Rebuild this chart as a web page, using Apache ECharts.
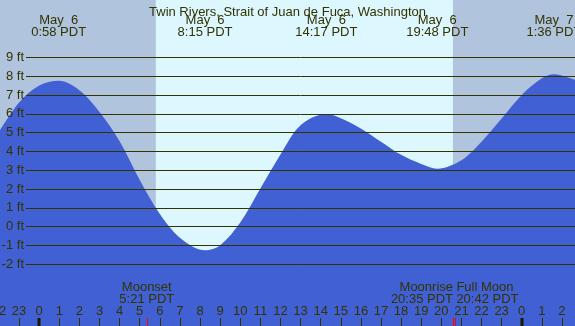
<!DOCTYPE html>
<html>
<head>
<meta charset="utf-8">
<script src="https://cdn.jsdelivr.net/npm/echarts@6/dist/echarts.min.js"></script>
<style>
  html, body { margin: 0; padding: 0; background: #b0c4de; }
  #chart { width: 575px; height: 326px; }
</style>
</head>
<body>
<div id="chart"></div>
<script>
// station + tide curve (hours from May 6 0:00 PDT, feet)
const title = "Twin Rivers, Strait of Juan de Fuca, Washington";
const tideHours = [-2, -1, 0, 0.967, 2, 3, 4, 5, 6, 7, 8.25, 9, 10, 11, 12, 13, 14.283, 15, 16, 17, 18, 19, 19.8, 21, 22, 23, 24, 25, 25.6, 26.3, 27];
const tideFeet = [5.0, 6.55, 7.45, 7.7, 7.2, 6.05, 4.5, 2.45, 0.65, -0.6, -1.27, -1.0, 0.2, 2.0, 3.8, 5.35, 5.94, 5.72, 5.18, 4.48, 3.78, 3.3, 3.05, 3.5, 4.48, 5.7, 6.95, 7.83, 8.05, 7.88, 7.6];

// high / low tides
const extremeHours = [0.967, 8.25, 14.283, 19.8, 25.6];
const extremeDates = ["May  6", "May  6", "May  6", "May  6", "May  7"];
const extremeTimes = ["0:58 PDT", "8:15 PDT", "14:17 PDT", "19:48 PDT", "1:36 PDT"];

// daylight, midnights, moon events
const dayHours = [5.8, 20.58];
const midnightHours = [0, 24];
const moonHours = [5.35, 20.583, 20.7];
const moonNames = ["Moonset", "Moonrise", "Full Moon"];
const moonTimes = ["5:21 PDT", "20:35 PDT", "20:42 PDT"];

// y tick labels
const feetMin = -2;
const feetMax = 9;

const NIGHT = "#b0c4de";
const DAY = "#ddf7ff";
const WATER = "#4160d3";
const INK = "#333300";
const FONT = "13px 'Liberation Sans', Arial, sans-serif";
const Y_MIN = -5.275;
const Y_MAX = 11.974;

const chart = echarts.init(document.getElementById("chart"), null, { renderer: "canvas" });

const moonAlign = moonHours.map((h, i) => {
  if (i + 1 < moonHours.length && moonHours[i + 1] - h < 0.5) return "right";
  if (i > 0 && h - moonHours[i - 1] < 0.5) return "left";
  return "center";
});

chart.setOption({
  backgroundColor: NIGHT,
  animation: false,
  title: {
    text: title, left: "center", top: 1,
    textStyle: { color: INK, fontSize: 13, fontWeight: "normal", fontFamily: "Liberation Sans" }
  },
  grid: [
    { left: -1, right: 0, top: 0, bottom: 0, containLabel: false, outerBoundsMode: "none" },
    { left: 26, right: 0, top: 57.3, bottom: 61.7, containLabel: false, outerBoundsMode: "none" }
  ],
  xAxis: [
    {
      gridIndex: 0, type: "value", min: -2, max: 26.65, interval: 1, z: 10,
      axisLine: { show: false, onZero: false },
      splitLine: { show: false },
      axisTick: { inside: true, length: 8, lineStyle: { color: INK } },
      axisLabel: {
        inside: true, margin: 8, color: INK, fontSize: 13, fontFamily: "Liberation Sans",
        showMinLabel: true, showMaxLabel: false, hideOverlap: false,
        formatter: v => String(((Math.round(v) % 24) + 24) % 24)
      }
    },
    { gridIndex: 1, type: "value", min: 0, max: 1, show: false }
  ],
  yAxis: [
    { gridIndex: 0, type: "value", min: Y_MIN, max: Y_MAX, show: false },
    {
      gridIndex: 1, type: "value", min: feetMin, max: feetMax, interval: 1, z: 10,
      axisLine: { show: false },
      axisTick: { show: false },
      splitLine: { lineStyle: { color: INK, width: 1 } },
      axisLabel: { margin: 2, color: INK, fontSize: 13, fontFamily: "Liberation Sans", formatter: v => v + " ft" }
    }
  ],
  series: [
    {
      // daylight band
      type: "custom", xAxisIndex: 0, yAxisIndex: 0, z: 1, silent: true,
      data: [[dayHours[0], dayHours[1]]],
      renderItem: (params, api) => {
        const a = api.coord([api.value(0), Y_MAX]);
        const b = api.coord([api.value(1), Y_MIN]);
        return { type: "rect", shape: { x: a[0], y: a[1], width: b[0] - a[0], height: b[1] - a[1] }, style: { fill: DAY } };
      }
    },
    {
      type: "line", xAxisIndex: 0, yAxisIndex: 0, z: 2,
      data: tideHours.map((h, i) => [h, tideFeet[i]]),
      smooth: 0.33, showSymbol: false, silent: true,
      lineStyle: { width: 0 },
      areaStyle: { color: WATER, opacity: 1, origin: "start" }
    },
    {
      // midnight + moon ticks
      type: "custom", xAxisIndex: 0, yAxisIndex: 0, z: 12, silent: true, clip: false,
      data: midnightHours.map(h => [h, 0]).concat(moonHours.map(h => [h, 1])),
      renderItem: (params, api) => {
        const p = api.coord([api.value(0), Y_MIN]);
        if (api.value(1) === 0) {
          return { type: "rect", shape: { x: Math.round(p[0]) - 1.5, y: p[1] - 8, width: 3, height: 8 }, style: { fill: "#1a1a00" } };
        }
        const x = Math.round(p[0]) + 0.5;
        return { type: "line", shape: { x1: x, y1: p[1] - 8, x2: x, y2: p[1] }, style: { stroke: "#ff0000", lineWidth: 1 } };
      }
    },
    {
      // tide time labels along the top
      type: "custom", xAxisIndex: 0, yAxisIndex: 0, z: 12, silent: true, clip: false,
      data: extremeHours.map((h, i) => [h, i]),
      renderItem: (params, api) => {
        const i = api.value(1);
        const p = api.coord([api.value(0), 0]);
        return {
          type: "text", x: p[0], y: 26,
          style: { text: extremeDates[i] + "\n" + extremeTimes[i], font: FONT, fill: INK, align: "center", verticalAlign: "middle", lineHeight: 12 }
        };
      }
    },
    {
      // moon labels above the hour axis
      type: "custom", xAxisIndex: 0, yAxisIndex: 0, z: 12, silent: true, clip: false,
      data: moonHours.map((h, i) => [h, i]),
      renderItem: (params, api) => {
        const i = api.value(1);
        const p = api.coord([api.value(0), 0]);
        const al = moonAlign[i];
        return {
          type: "text", x: p[0] + (al === "left" ? 1 : 0), y: 293,
          style: { text: moonNames[i] + "\n" + moonTimes[i], font: FONT, fill: INK, align: al, verticalAlign: "middle", lineHeight: 12 }
        };
      }
    }
  ]
});
</script>
</body>
</html>
